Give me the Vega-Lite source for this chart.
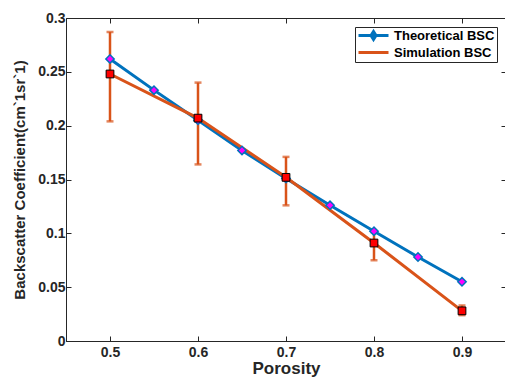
{
  "$schema": "https://vega.github.io/schema/vega-lite/v6.json",
  "width": 440,
  "height": 323,
  "autosize": "none",
  "padding": {"left": 66, "top": 18, "right": 0, "bottom": 44},
  "config": {
    "font": "Liberation Sans",
    "view": {"stroke": "#262626", "strokeWidth": 1},
    "axis": {
      "grid": false,
      "domainColor": "#262626",
      "tickColor": "#262626",
      "labelColor": "#262626",
      "titleColor": "#262626",
      "labelFont": "Liberation Sans",
      "labelFontWeight": "bold",
      "labelFontSize": 14,
      "titleFont": "Liberation Sans",
      "titleFontWeight": "bold",
      "titleFontSize": 15,
      "tickSize": -5,
      "format": "~g"
    }
  },
  "data": {
    "values": [
      {"porosity": 0.5, "series": "Theoretical BSC", "bsc": 0.262},
      {"porosity": 0.55, "series": "Theoretical BSC", "bsc": 0.233},
      {"porosity": 0.6, "series": "Theoretical BSC", "bsc": 0.205},
      {"porosity": 0.65, "series": "Theoretical BSC", "bsc": 0.177},
      {"porosity": 0.7, "series": "Theoretical BSC", "bsc": 0.151},
      {"porosity": 0.75, "series": "Theoretical BSC", "bsc": 0.126},
      {"porosity": 0.8, "series": "Theoretical BSC", "bsc": 0.102},
      {"porosity": 0.85, "series": "Theoretical BSC", "bsc": 0.078},
      {"porosity": 0.9, "series": "Theoretical BSC", "bsc": 0.055},
      {"porosity": 0.5, "series": "Simulation BSC", "bsc": 0.248, "lo": 0.204, "hi": 0.287},
      {"porosity": 0.6, "series": "Simulation BSC", "bsc": 0.207, "lo": 0.164, "hi": 0.240},
      {"porosity": 0.7, "series": "Simulation BSC", "bsc": 0.152, "lo": 0.126, "hi": 0.171},
      {"porosity": 0.8, "series": "Simulation BSC", "bsc": 0.091, "lo": 0.075, "hi": 0.101},
      {"porosity": 0.9, "series": "Simulation BSC", "bsc": 0.028, "lo": 0.024, "hi": 0.033}
    ]
  },
  "layer": [
    {
      "transform": [{"filter": "datum.series == 'Simulation BSC'"}],
      "mark": {"type": "rule", "color": "#D95319", "strokeWidth": 2.5},
      "encoding": {
        "x": {
          "field": "porosity", "type": "quantitative",
          "scale": {"domain": [0.45, 0.95], "nice": false, "zero": false},
          "axis": {"title": "Porosity", "titleFontSize": 17, "values": [0.5, 0.6, 0.7, 0.8, 0.9], "labelPadding": 9, "titlePadding": 1}
        },
        "y": {
          "field": "lo", "type": "quantitative",
          "scale": {"domain": [0, 0.3], "nice": false},
          "axis": {"title": "Backscatter Coefficient(cm`1sr`1)", "values": [0, 0.05, 0.1, 0.15, 0.2, 0.25, 0.3], "labelPadding": 6, "titlePadding": 10}
        },
        "y2": {"field": "hi"}
      }
    },
    {
      "transform": [{"filter": "datum.series == 'Simulation BSC'"}],
      "mark": {"type": "tick", "color": "#D95319", "orient": "horizontal", "size": 7, "thickness": 2.5},
      "encoding": {
        "x": {"field": "porosity", "type": "quantitative", "axis": null},
        "y": {"field": "lo", "type": "quantitative", "axis": null}
      }
    },
    {
      "transform": [{"filter": "datum.series == 'Simulation BSC'"}],
      "mark": {"type": "tick", "color": "#D95319", "orient": "horizontal", "size": 7, "thickness": 2.5},
      "encoding": {
        "x": {"field": "porosity", "type": "quantitative", "axis": null},
        "y": {"field": "hi", "type": "quantitative", "axis": null}
      }
    },
    {
      "mark": {"type": "line", "strokeWidth": 3},
      "encoding": {
        "x": {"field": "porosity", "type": "quantitative", "axis": null},
        "y": {"field": "bsc", "type": "quantitative", "axis": null},
        "color": {
          "field": "series", "type": "nominal",
          "scale": {"domain": ["Theoretical BSC", "Simulation BSC"], "range": ["#0072BD", "#D95319"]},
          "legend": {
            "title": null,
            "orient": "top-right",
            "offset": 9,
            "symbolType": "M-3,0H3",
            "symbolStrokeWidth": 3,
            "symbolSize": 100,
            "symbolOffset": 10,
            "labelFont": "Liberation Sans",
            "labelFontWeight": "bold",
            "labelFontSize": 13,
            "labelColor": "#000000",
            "labelOffset": 14,
            "rowPadding": -6,
            "strokeColor": "#262626",
            "fillColor": "white",
            "padding": 2,
            "encode": {
              "symbols": {
                "update": {
                  "shape": {"signal": "datum.value == 'Theoretical BSC' ? 'M-3,0H3M0,-0.8L0.5,0L0,0.8L-0.5,0Z' : 'M-3,0H3'"},
                  "fill": {"signal": "datum.value == 'Theoretical BSC' ? '#FF00FF' : 'transparent'"},
                  "strokeWidth": {"value": 3}
                }
              }
            }
          }
        }
      }
    },
    {
      "transform": [{"filter": "datum.series == 'Theoretical BSC'"}],
      "mark": {"type": "point", "shape": "diamond", "filled": true, "fill": "#FF00FF", "stroke": "#0072BD", "strokeWidth": 1.5, "size": 70, "opacity": 1},
      "encoding": {
        "x": {"field": "porosity", "type": "quantitative", "axis": null},
        "y": {"field": "bsc", "type": "quantitative", "axis": null}
      }
    },
    {
      "transform": [{"filter": "datum.series == 'Simulation BSC'"}],
      "mark": {"type": "square", "filled": true, "fill": "#FF0000", "stroke": "#000000", "strokeWidth": 1, "size": 60, "opacity": 1},
      "encoding": {
        "x": {"field": "porosity", "type": "quantitative", "axis": null},
        "y": {"field": "bsc", "type": "quantitative", "axis": null}
      }
    },
    {
      "mark": {"type": "rule", "opacity": 0},
      "encoding": {
        "y": {"field": "bsc", "type": "quantitative", "axis": {"orient": "right", "labels": false, "title": null, "domain": false, "values": [0, 0.05, 0.1, 0.15, 0.2, 0.25, 0.3]}},
        "x": {"field": "porosity", "type": "quantitative", "axis": {"orient": "top", "labels": false, "title": null, "domain": false, "values": [0.5, 0.6, 0.7, 0.8, 0.9]}}
      }
    }
  ],
  "resolve": {"axis": {"x": "independent", "y": "independent"}}
}
